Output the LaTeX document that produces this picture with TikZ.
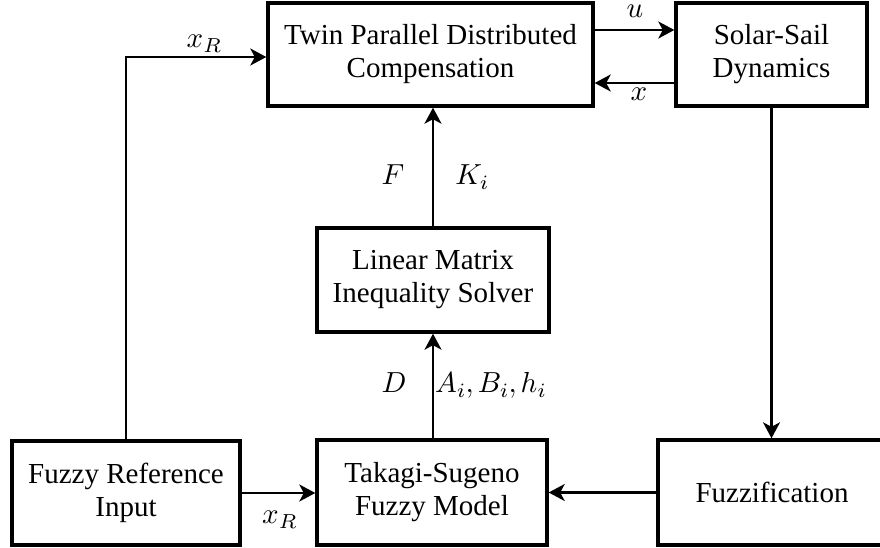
\documentclass[tikz,border=0pt]{standalone}
\usepackage[no-math]{fontspec}
\setmainfont{Liberation Serif}
\usetikzlibrary{arrows.meta}
% let math italic scale freely to the large label size,
% keeping the design sizes for main symbols and subscripts
\DeclareFontShape{OML}{cmm}{m}{it}{<-17>cmmi5<17-24>cmmi7<24->cmmi10}{}
\DeclareFontShape{OML}{cmm}{b}{it}{<->cmmib10}{}

\begin{document}
\begin{tikzpicture}[x=1pt,y=-1pt,
  blk/.style={draw, line width=3.4pt, align=center, inner sep=0pt,
    font=\fontsize{29}{33}\selectfont},
  wire/.style={line width=2.2pt},
  arr/.style={wire, -{Stealth[length=16pt,width=17pt,inset=4.5pt]}},
  lbl/.style={inner sep=0pt, font=\fontsize{29}{33}\selectfont}]
\useasboundingbox (0,0) rectangle (880,548);
\begin{scope}
\clip (0,0) rectangle (880,548);

% blocks
\node[blk, minimum width=325pt, minimum height=103pt] (tpdc) at (430.5,54.5)
  {Twin Parallel Distributed\\Compensation};
\node[blk, minimum width=191pt, minimum height=103pt] (sail) at (771.5,54.5)
  {Solar-Sail\\Dynamics};
\node[blk, minimum width=232pt, minimum height=104pt] (lmi) at (433,280)
  {Linear Matrix\\Inequality Solver};
\node[blk, minimum width=228pt, minimum height=104pt] (ref) at (126,493)
  {Fuzzy Reference\\Input};
\node[blk, minimum width=230pt, minimum height=105pt] (ts) at (432,492.5)
  {Takagi-Sugeno\\Fuzzy Model};
\node[blk, minimum width=228pt, minimum height=105pt] (fuzz) at (772,492.5)
  {Fuzzification};

% connectors
\draw[arr] ([yshift=24.5pt]tpdc.east) -- ([yshift=24.5pt]tpdc.east -| sail.west);
\draw[arr] ([yshift=-28.5pt]sail.west) -- ([yshift=-28.5pt]sail.west -| tpdc.east);
\draw[arr] (ref.north) |- ([yshift=-2.5pt]tpdc.west);
\draw[arr] (ref.east) -- (ref.east -| ts.west);
\draw[arr] (fuzz.west) -- (fuzz.west -| ts.east);
\draw[arr] (sail.south) -- (sail.south |- fuzz.north);
\draw[arr] (ts.north -| lmi.north) -- (lmi.south);
\draw[arr] (lmi.north) -- (lmi.north |- tpdc.south);

% signal labels
\node[lbl] (lu) at (635,11.5) {$u$};
\node[lbl] (lx) at (639,94) {$x$};
\node[lbl] (lxr1) at (204,44) {$x_R$};
\node[lbl] (lxr2) at (279.5,520) {$x_R$};
\node[lbl] (lF) at (393,175) {$F$};
\node[lbl] (lK) at (472,177) {$K_i$};
\node[lbl] (lD) at (394,383) {$D$};
\node[lbl, anchor=west] (lABh) at (435,385) {$A_i, B_i, h_i$};
\end{scope}
\end{tikzpicture}
\end{document}
